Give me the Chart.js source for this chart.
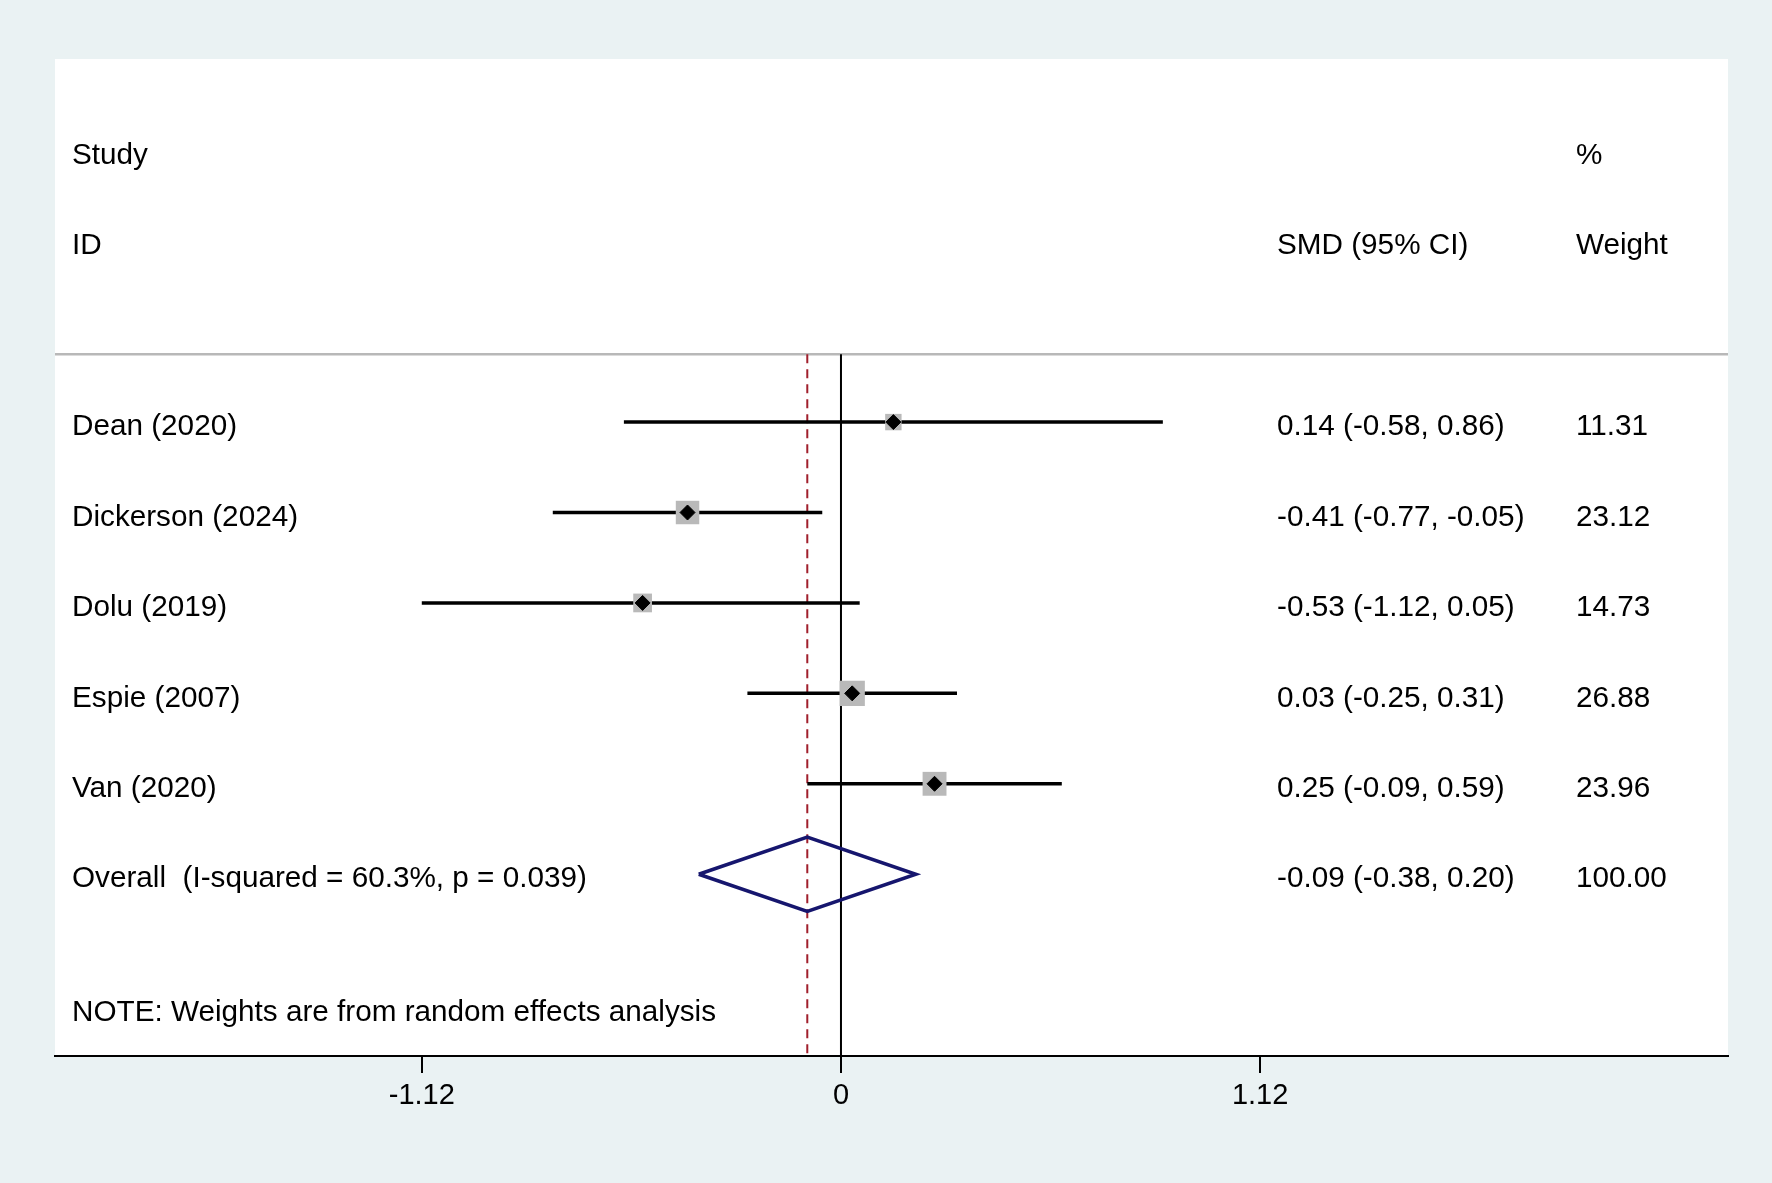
<!DOCTYPE html>
<html lang="en">
<head>
    <meta charset="UTF-8">
    <title>Forest plot - SMD</title>
    <script src="https://cdn.jsdelivr.net/npm/chart.js"></script>
    <style>
        body {
            margin: 0;
            background-color: #eaf2f3;
        }
        canvas {
            display: block;
        }
    </style>
</head>
<body>
    <canvas id="forest" width="1772" height="1183"></canvas>

    <script>
        // study data
        const studies = ['Dean (2020)', 'Dickerson (2024)', 'Dolu (2019)', 'Espie (2007)', 'Van (2020)'];
        const smd = [0.14, -0.41, -0.53, 0.03, 0.25];
        const lower = [-0.58, -0.77, -1.12, -0.25, -0.09];
        const upper = [0.86, -0.05, 0.05, 0.31, 0.59];
        const weights = [11.31, 23.12, 14.73, 26.88, 23.96];

        const overallLabel = 'Overall  (I-squared = 60.3%, p = 0.039)';
        const overall = [-0.09, -0.38, 0.20];   // estimate, lower, upper
        const overallWeight = 100.00;

        const xTicks = [-1.12, 0, 1.12];
        const note = 'NOTE: Weights are from random effects analysis';

        // layout (rows in y units, row 0 = first study)
        const X_MIN = -2.10, X_MAX = 2.37;
        const Y_TOP = -4.015, Y_BOTTOM = 7.01;
        const SEP_Y = -0.75;
        const overallRow = studies.length;
        const diamondHalf = 0.41;
        const TEXT_DY = 5;
        const FONT = '"Liberation Sans", Arial, Helvetica, sans-serif';

        Chart.defaults.font.family = FONT;

        var datasets = [];

        // weight boxes + point estimates
        datasets.push({
            label: 'est',
            data: smd.map((v, i) => ({x: v, y: i})),
            pointStyle: 'rectRot',
            pointRadius: 7.5,
            backgroundColor: '#000',
            borderColor: '#000',
            borderWidth: 1,
            order: 0
        });
        datasets.push({
            label: 'box',
            data: smd.map((v, i) => ({x: v, y: i})),
            pointStyle: 'rect',
            pointRadius: weights.map(w => Math.sqrt(w) * 3.45),
            backgroundColor: '#b9b9b9',
            borderColor: '#b9b9b9',
            borderWidth: 0,
            order: 1
        });

        // confidence intervals
        studies.forEach(function(s, i) {
            datasets.push({
                label: s,
                data: [{x: lower[i], y: i}, {x: upper[i], y: i}],
                showLine: true,
                borderColor: '#000',
                borderWidth: 3.5,
                pointRadius: 0,
                order: 2
            });
        });

        // overall diamond
        datasets.push({
            label: 'overall',
            data: [
                {x: overall[1], y: overallRow},
                {x: overall[0], y: overallRow - diamondHalf},
                {x: overall[2], y: overallRow},
                {x: overall[0], y: overallRow + diamondHalf},
                {x: overall[1], y: overallRow}
            ],
            showLine: true,
            fill: false,
            borderColor: '#16166e',
            borderWidth: 3.5,
            borderJoinStyle: 'miter',
            pointRadius: 0,
            order: 1
        });

        // no-effect line and overall line
        datasets.push({
            label: 'zero',
            data: [{x: 0, y: SEP_Y}, {x: 0, y: Y_BOTTOM}],
            showLine: true,
            borderColor: '#000',
            borderWidth: 2,
            pointRadius: 0,
            order: 3
        });
        datasets.push({
            label: 'overallLine',
            data: [{x: overall[0], y: SEP_Y}, {x: overall[0], y: Y_BOTTOM}],
            showLine: true,
            borderColor: '#a01f2c',
            borderWidth: 2,
            borderDash: [9, 6],
            pointRadius: 0,
            order: 3
        });

        // header separator
        datasets.push({
            label: 'sep',
            data: [{x: X_MIN, y: SEP_Y}, {x: X_MAX, y: SEP_Y}],
            showLine: true,
            borderColor: '#b8b8b8',
            borderWidth: 2.5,
            pointRadius: 0,
            order: 4
        });

        const panelBg = {
            id: 'panelBg',
            beforeDraw: function(chart) {
                var ctx = chart.ctx, a = chart.chartArea;
                ctx.save();
                ctx.fillStyle = '#eaf2f3';
                ctx.fillRect(0, 0, chart.width, chart.height);
                ctx.fillStyle = '#ffffff';
                ctx.fillRect(a.left, a.top, a.right - a.left, a.bottom - a.top);
                ctx.restore();
            }
        };

        const tableText = {
            id: 'tableText',
            afterDraw: function(chart) {
                var ctx = chart.ctx;
                var y = chart.scales.y;
                var colStudy = 72, colSmd = 1277, colWeight = 1576;
                var rowY = v => y.getPixelForValue(v) + TEXT_DY;
                ctx.save();
                ctx.fillStyle = '#000';
                ctx.font = '29.7px ' + FONT;
                ctx.textAlign = 'left';
                ctx.textBaseline = 'middle';

                ctx.fillText('Study', colStudy, rowY(-3));
                ctx.fillText('%', colWeight, rowY(-3));
                ctx.fillText('ID', colStudy, rowY(-2));
                ctx.fillText('SMD (95% CI)', colSmd, rowY(-2));
                ctx.fillText('Weight', colWeight, rowY(-2));

                studies.forEach(function(s, i) {
                    var py = rowY(i);
                    ctx.fillText(s, colStudy, py);
                    ctx.fillText(smd[i].toFixed(2) + ' (' + lower[i].toFixed(2) + ', ' + upper[i].toFixed(2) + ')', colSmd, py);
                    ctx.fillText(weights[i].toFixed(2), colWeight, py);
                });

                var oy = rowY(overallRow);
                ctx.fillText(overallLabel, colStudy, oy);
                ctx.fillText(overall[0].toFixed(2) + ' (' + overall[1].toFixed(2) + ', ' + overall[2].toFixed(2) + ')', colSmd, oy);
                ctx.fillText(overallWeight.toFixed(2), colWeight, oy);

                ctx.fillText(note, colStudy, rowY(6.48));
                ctx.restore();
            }
        };

        var ctx = document.getElementById('forest').getContext('2d');
        var forestChart = new Chart(ctx, {
            type: 'scatter',
            data: {datasets: datasets},
            plugins: [panelBg, tableText],
            options: {
                responsive: false,
                animation: false,
                devicePixelRatio: 1,
                layout: {padding: {left: 55, right: 44, top: 59, bottom: 67}},
                plugins: {
                    legend: {display: false},
                    tooltip: {enabled: false}
                },
                scales: {
                    x: {
                        type: 'linear',
                        min: X_MIN,
                        max: X_MAX,
                        afterBuildTicks: function(axis) {
                            axis.ticks = xTicks.map(v => ({value: v}));
                        },
                        afterFit: function(axis) {
                            axis.height = 60;
                        },
                        border: {display: true, color: '#000', width: 2},
                        grid: {
                            display: true,
                            drawOnChartArea: false,
                            drawTicks: true,
                            tickLength: 17,
                            color: '#000',
                            lineWidth: 2
                        },
                        ticks: {
                            autoSkip: false,
                            maxRotation: 0,
                            padding: 6,
                            color: '#000',
                            font: {size: 29},
                            callback: function(v) {
                                return v === 0 ? '0' : v.toFixed(2);
                            }
                        }
                    },
                    y: {
                        type: 'linear',
                        display: false,
                        reverse: true,
                        min: Y_TOP,
                        max: Y_BOTTOM
                    }
                }
            }
        });
    </script>
</body>
</html>
